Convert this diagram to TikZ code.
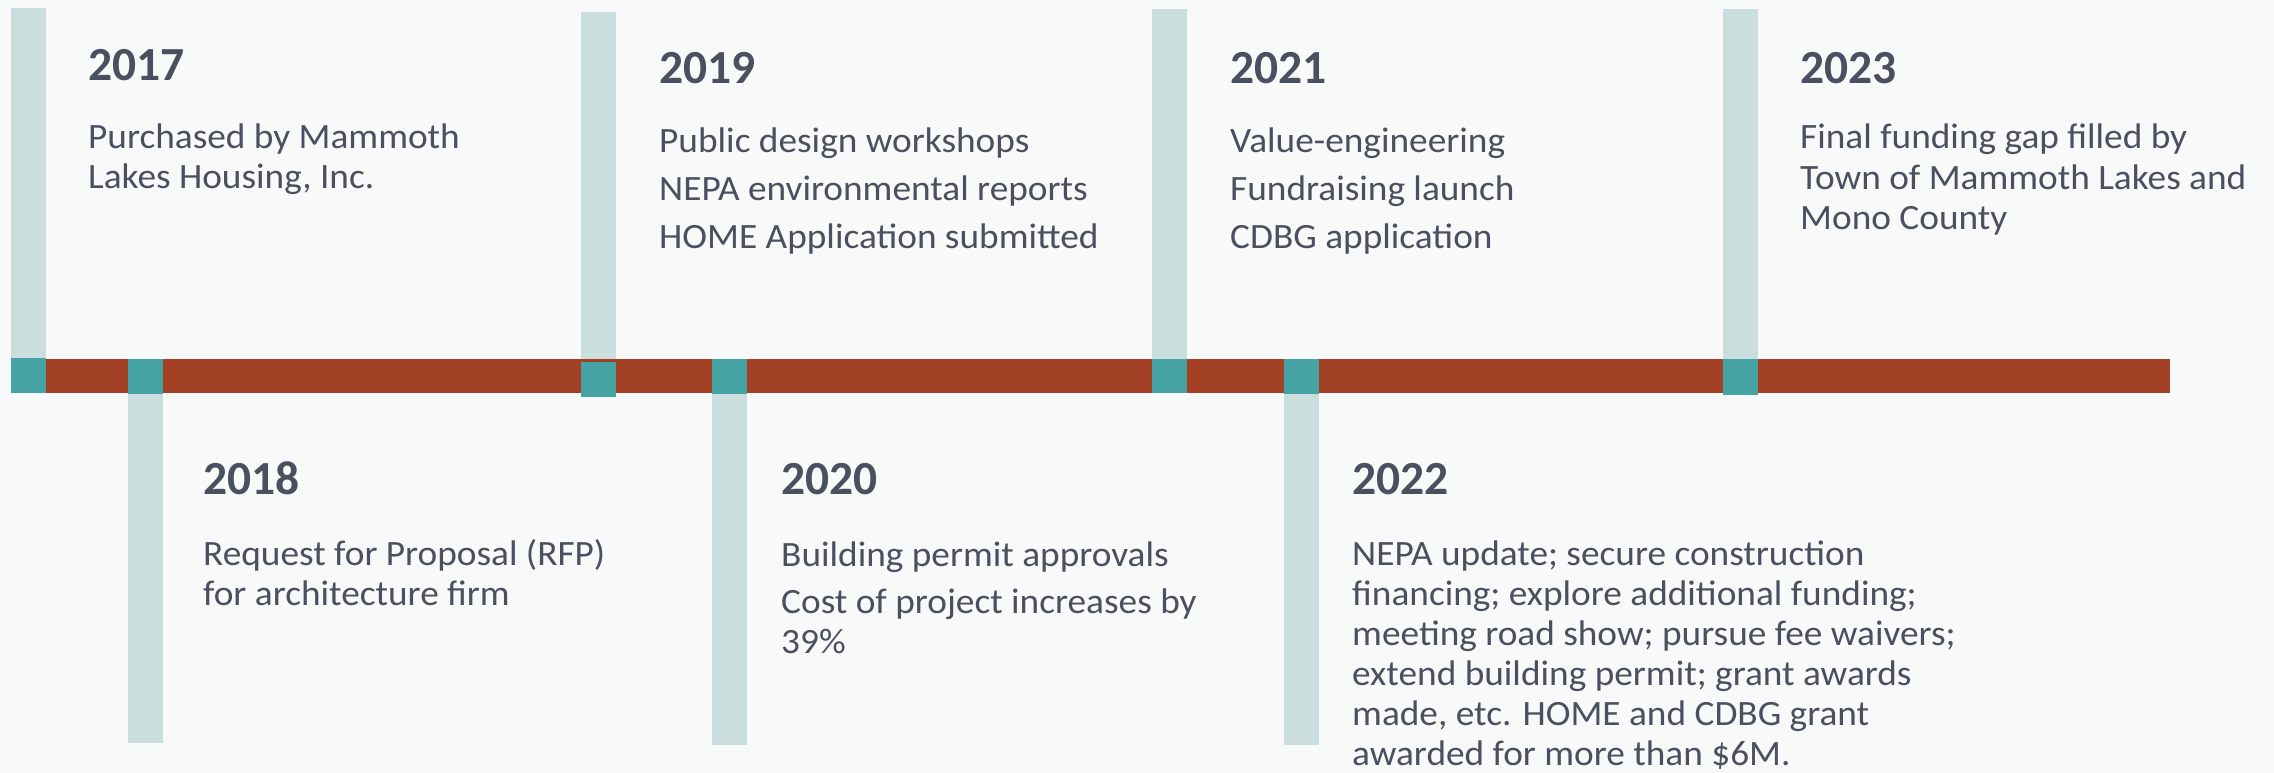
\documentclass[tikz,border=0pt]{standalone}
\usepackage{fontspec}
\setmainfont{Carlito}
\newfontfamily\bodyfont{Carlito}[FakeStretch=1.048]
\definecolor{pagebg}{HTML}{F8F9F9}
\definecolor{stem}{HTML}{CADEDE}
\definecolor{joint}{HTML}{46A3A3}
\definecolor{rail}{HTML}{A34124}
\definecolor{ink}{HTML}{4A5060}
\tikzset{
  stembar/.style={fill=stem},
  jointbox/.style={fill=joint},
  railbar/.style={fill=rail},
  yearlabel/.style={anchor=base west, inner sep=0pt, text=ink, font=\fontsize{47.5}{50}\selectfont\bfseries},
  bodyline/.style={anchor=base west, inner sep=0pt, text=ink, font=\bodyfont\fontsize{35.6}{40}\selectfont},
}
\begin{document}
\begin{tikzpicture}[x=1pt,y=-1pt]
  % canvas
  \fill[pagebg] (0,0) rectangle (2274,773);
  \useasboundingbox (0,0) rectangle (2274,773);

  % stems above the rail
  \fill[stembar] (11,8) rectangle (46,360);
  \fill[stembar] (581,12) rectangle (616,364);
  \fill[stembar] (1152,9) rectangle (1187,360);
  \fill[stembar] (1723,9) rectangle (1758,360);
  % stems below the rail
  \fill[stembar] (128,392) rectangle (163,743);
  \fill[stembar] (712,392) rectangle (747,745);
  \fill[stembar] (1284,392) rectangle (1319,745);

  % the rail
  \fill[railbar] (11,359) rectangle (2170,393);

  % joints where each stem meets the rail
  \fill[jointbox] (11,358) rectangle (46,393);
  \fill[jointbox] (128,359) rectangle (163,394);
  \fill[jointbox] (581,362) rectangle (616,397);
  \fill[jointbox] (712,359) rectangle (747,394);
  \fill[jointbox] (1152,359) rectangle (1187,393);
  \fill[jointbox] (1284,359) rectangle (1319,394);
  \fill[jointbox] (1723,359) rectangle (1758,395);

  % 2017
  \node[yearlabel] (y17) at (88,81) {2017};
  \node[bodyline] (t17a) at (88,148) {Purchased by Mammoth};
  \node[bodyline] (t17b) at (88,188) {Lakes Housing, Inc.};

  % 2018
  \node[yearlabel] (y18) at (203,494) {2018};
  \node[bodyline] (t18a) at (203,565) {Request for Proposal (RFP)};
  \node[bodyline] (t18b) at (203,605) {for architecture firm};

  % 2019
  \node[yearlabel] (y19) at (659,84) {2019};
  \node[bodyline] (t19a) at (659,152) {Public design workshops};
  \node[bodyline] (t19b) at (659,200) {NEPA environmental reports};
  \node[bodyline] (t19c) at (659,248) {HOME Application submitted};

  % 2020
  \node[yearlabel] (y20) at (781,494) {2020};
  \node[bodyline] (t20a) at (781,566) {Building permit approvals};
  \node[bodyline] (t20b) at (781,613) {Cost of project increases by};
  \node[bodyline] (t20c) at (781,653) {39\%};

  % 2021
  \node[yearlabel] (y21) at (1230,84) {2021};
  \node[bodyline] (t21a) at (1230,152) {Value-engineering};
  \node[bodyline] (t21b) at (1230,200) {Fundraising launch};
  \node[bodyline] (t21c) at (1230,248) {CDBG application};

  % 2022
  \node[yearlabel] (y22) at (1352,494) {2022};
  \node[bodyline] (t22a) at (1352,565) {NEPA update; secure construction};
  \node[bodyline] (t22b) at (1352,605) {financing; explore additional funding;};
  \node[bodyline] (t22c) at (1352,645) {meeting road show; pursue fee waivers;};
  \node[bodyline] (t22d) at (1352,685) {extend building permit; grant awards};
  \node[bodyline] (t22e) at (1352,725) {made, etc. HOME and CDBG grant};
  \node[bodyline] (t22f) at (1352,765) {awarded for more than \$6M.};

  % 2023
  \node[yearlabel] (y23) at (1800,84) {2023};
  \node[bodyline] (t23a) at (1800,149) {Final funding gap filled by};
  \node[bodyline] (t23b) at (1800,189) {Town of Mammoth Lakes and};
  \node[bodyline] (t23c) at (1800,229) {Mono County};
\end{tikzpicture}
\end{document}
